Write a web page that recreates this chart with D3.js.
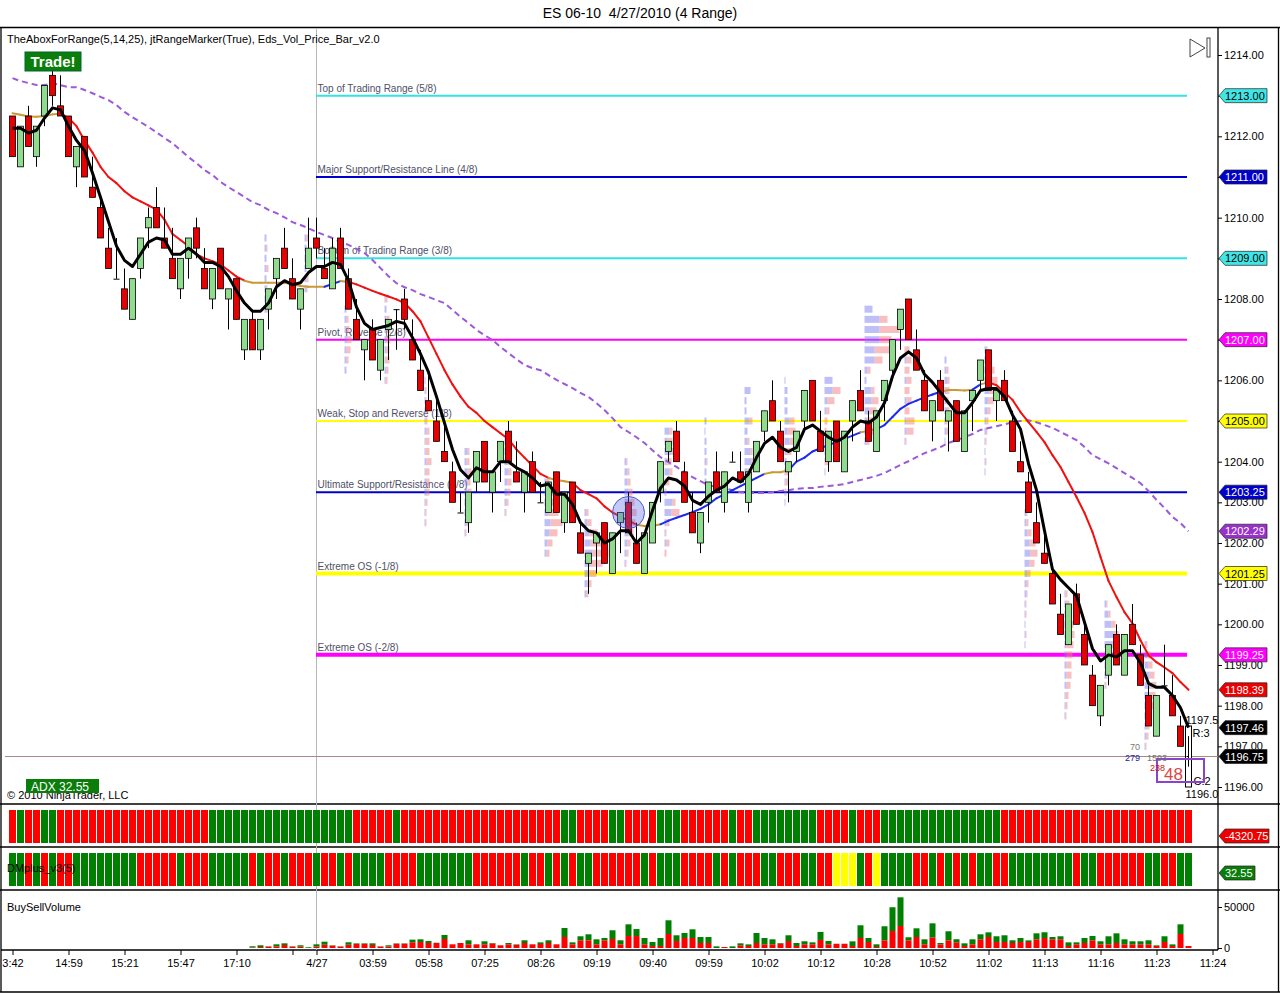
<!DOCTYPE html>
<html>
<head>
<meta charset="utf-8">
<script src="https://cdn.jsdelivr.net/npm/d3@7"></script>
<style>
  body { margin: 0; background: #fff; }
  svg text { font-family: "Liberation Sans", Arial, sans-serif; }
</style>
</head>
<body>
<div id="chart"></div>
<script>
// ---- data ----
const opens = [1212.5,1211.25,1212.5,1211.5,1212.5,1213.5,1212.75,1212.5,1211.25,1212,
 1210.75,1210.25,1209.25,1208.5,1208.25,1207.5,1208.75,1209.75,1210.25,1209.5,
 1209,1208.25,1209,1209.75,1208.75,1208,1209.25,1208,1208.5,1206.75,
 1207.5,1206.75,1207.75,1208.5,1209.25,1208.5,1207.75,1208.75,1209.5,1208.75,
 1208.25,1209.5,1208.5,1207.5,1206.75,1207.25,1206.25,1207.25,1207.75,1208,
 1207,1206.25,1205.5,1205,1204.25,1203.75,1202.75,1202.5,1203.5,1204.5,
 1203.25,1204,1204.75,1203.75,1203.25,1204,1203,1202.75,1203.75,1202.5,
 1203.5,1202.25,1201.5,1202,1202.5,1201.25,1202.5,1203,1202,1201.25,
 1202,1203.25,1204.25,1204.75,1203.75,1202.75,1202,1203,1203.75,1203,
 1204,1203.75,1203,1203.75,1204.75,1205.5,1204.75,1203.75,1204.25,1205,
 1206,1204.75,1204,1205,1203.75,1205,1205.75,1205,1204.25,1205.5,
 1206.25,1207.25,1208,1206.75,1206,1205,1206,1205,1205.5,1204.25,
 1205.5,1206,1206.75,1205.5,1206,1205,1204,1203.5,1202.5,1201.75,
 1201.25,1200.25,1199.5,1200.75,1199.75,1198.75,1197.75,1198.75,1199.75,1198.75,
 1200,1199.25,1198.25,1197.25,1198.5,1198.25,1197.5,1196.75];
const highs = [1212.5,1212.25,1212.75,1212.25,1213.25,1213.75,1213.5,1212.5,1211.75,1212,
 1211.5,1210.5,1209.75,1209.5,1208.75,1208.5,1209.5,1210.25,1210.75,1210.25,
 1209.75,1209,1209.5,1210,1209.25,1208.75,1209.25,1208.25,1208.5,1207.5,
 1207.75,1207.5,1208.25,1209,1209.75,1209,1208.25,1210,1210,1209.25,
 1209.5,1209.75,1208.75,1208,1207,1207.5,1207,1207.5,1207.75,1208.25,
 1207.5,1206.75,1206.25,1205.5,1205,1204,1203.25,1203.25,1204.25,1204.5,
 1203.75,1204.5,1205,1204.5,1203.75,1204.25,1203.5,1203.5,1203.75,1203.25,
 1203.5,1202.5,1201.75,1202.25,1202.5,1202.25,1202.75,1203.25,1202.5,1202.25,
 1203,1204,1204.5,1205,1204,1203.25,1202.75,1203.5,1204.25,1203.75,
 1204.25,1204.25,1203.75,1204.5,1205.25,1206,1205,1204,1204.75,1205.75,
 1206,1205.25,1204.75,1205,1204.75,1205.5,1206.25,1205.25,1205.25,1206,
 1207,1207.75,1208,1207.25,1206.25,1205.5,1206.25,1205.25,1205.5,1205.25,
 1205.75,1206.5,1206.75,1205.75,1206.25,1205.25,1204.5,1203.75,1203,1202.25,
 1201.5,1200.75,1200.5,1201,1200,1199,1198.5,1199.5,1200,1199.75,
 1200.5,1199.5,1198.5,1198.25,1199.5,1198.75,1197.75,1197.25];
const lows = [1211.5,1211.25,1211.75,1211.25,1212.25,1212.75,1212.5,1211.5,1210.75,1211,
 1210.5,1209.5,1208.75,1208.5,1207.75,1207.5,1208.5,1209.25,1209.75,1209.25,
 1208.5,1208,1208.5,1209,1208.25,1207.75,1208.25,1207.25,1207.5,1206.5,
 1206.75,1206.5,1207.25,1208,1208.75,1208,1207.25,1208.75,1209,1208.5,
 1208.25,1208.75,1207.75,1207,1206,1206.5,1206,1206.5,1206.75,1207.25,
 1206.5,1205.75,1205.25,1204.5,1204,1203,1202.75,1202.25,1203.25,1203.5,
 1202.75,1203.5,1204,1203.5,1202.75,1203.25,1203,1202.75,1202.75,1202.25,
 1202.5,1201.75,1200.75,1201.25,1201.5,1201.25,1201.75,1202.25,1201.5,1201.25,
 1202,1203,1204,1204,1203,1202.25,1201.75,1202.5,1203.25,1202.75,
 1204,1203.5,1202.75,1203.75,1204.5,1205,1204,1203,1204,1204.75,
 1205,1204.25,1203.75,1204,1203.75,1204.5,1205.25,1204.5,1204.25,1205,
 1206,1206.75,1207,1206.25,1205.25,1204.5,1205.25,1204.25,1204.5,1204.25,
 1204.75,1205.75,1205.75,1205,1205.5,1204.25,1203.75,1202.75,1202,1201.5,
 1200.5,1199.75,1199.5,1200,1199,1198,1197.5,1198.5,1199,1198.75,
 1199.5,1198.5,1197.5,1197.25,1198.5,1197.75,1197,1196.5];
const closes = [1211.5,1212.25,1211.75,1212.25,1213.25,1213,1212.5,1211.5,1211.75,1211,
 1210.5,1209.5,1208.75,1208.5,1207.75,1208.5,1209.5,1210,1209.75,1209.25,
 1208.5,1209,1209.5,1209.25,1208.25,1208.75,1208.25,1208.25,1207.5,1207.5,
 1206.75,1207.5,1208.25,1209,1208.75,1208,1208.25,1209.25,1209.25,1208.5,
 1209.25,1208.75,1207.75,1207,1207,1206.5,1207,1207.5,1207.75,1207.5,
 1206.5,1205.75,1205.25,1204.5,1204,1203,1202.75,1203.25,1204.25,1203.5,
 1203.75,1204.5,1204,1203.5,1203.75,1203.25,1203,1203.5,1202.75,1203.25,
 1202.5,1201.75,1201.75,1202.25,1201.5,1202.25,1202.75,1202.25,1201.5,1202.25,
 1203,1204,1204.5,1204,1203,1202.25,1202.75,1203.5,1203.25,1203.75,
 1204,1203.5,1203.75,1204.5,1205.25,1205,1204,1204,1204.75,1205.75,
 1205,1204.25,1204.75,1204,1204.75,1205.5,1205.25,1204.5,1205.25,1206,
 1207,1207.75,1207,1206.25,1205.25,1205.5,1205.25,1205.25,1204.5,1205.25,
 1205.75,1206.5,1205.75,1205.75,1205.5,1204.25,1203.75,1202.75,1202,1201.5,
 1200.5,1199.75,1200.5,1200,1199,1198,1198.5,1199.5,1199,1199.75,
 1199.5,1198.5,1197.5,1198.25,1198.5,1197.75,1197,1196.75];

// thick black average (5)
const fastAvg = [1212.2,1212.2,1212.08,1212.15,1212.45,1212.7,1212.65,1212.25,1211.9,1211.65,
 1211.1,1210.5,1209.9,1209.3,1208.95,1208.8,1209.1,1209.4,1209.5,1209.45,
 1209.1,1209.1,1209.25,1209.1,1208.9,1208.9,1208.8,1208.55,1208.2,1207.9,
 1207.7,1207.7,1207.9,1208.3,1208.45,1208.35,1208.4,1208.65,1208.8,1208.8,
 1208.9,1208.85,1208.45,1207.8,1207.4,1207.25,1207.3,1207.35,1207.45,1207.4,
 1207.05,1206.65,1206.2,1205.6,1204.95,1204.3,1203.8,1203.6,1203.85,1203.75,
 1203.75,1204,1204,1203.85,1203.75,1203.6,1203.4,1203.45,1203.2,1203.2,
 1202.95,1202.5,1202.3,1202.25,1202,1202.1,1202.3,1202.3,1202,1202.2,
 1202.8,1203.35,1203.6,1203.55,1203.4,1203.05,1202.95,1203.15,1203.3,1203.4,
 1203.6,1203.5,1203.7,1204.1,1204.45,1204.6,1204.35,1204.25,1204.35,1204.8,
 1204.9,1204.75,1204.6,1204.5,1204.6,1204.85,1205,1204.95,1205.1,1205.45,
 1206.1,1206.55,1206.7,1206.55,1206.15,1205.95,1205.7,1205.45,1205.2,1205.2,
 1205.45,1205.75,1205.8,1205.8,1205.6,1205.15,1204.8,1203.95,1203.3,1202.3,
 1201.35,1201.1,1200.9,1200.7,1200.05,1199.4,1199.1,1199.25,1199.2,1199.35,
 1199.35,1199.05,1198.55,1198.45,1198.45,1198.25,1197.95,1197.46];

// slope-coloured average (14)
const midAvg = [1212.57,1212.53,1212.49,1212.48,1212.5,1212.54,1212.56,1212.45,1212.25,1211.9,
 1211.6,1211.25,1211,1210.85,1210.65,1210.5,1210.4,1210.3,1210.2,1209.95,
 1209.6,1209.45,1209.3,1209.1,1209,1208.93,1208.85,1208.7,1208.55,1208.45,
 1208.4,1208.4,1208.4,1208.4,1208.4,1208.36,1208.32,1208.3,1208.3,1208.3,
 1208.37,1208.44,1208.42,1208.36,1208.28,1208.2,1208.13,1208.06,1207.99,1207.9,
 1207.7,1207.45,1207.05,1206.65,1206.25,1205.9,1205.6,1205.35,1205.2,1205,
 1204.85,1204.7,1204.55,1204.3,1204.1,1203.9,1203.7,1203.6,1203.55,1203.52,
 1203.48,1203.3,1203.2,1203.1,1202.9,1202.75,1202.65,1202.55,1202.45,1202.42,
 1202.42,1202.46,1202.55,1202.62,1202.69,1202.76,1202.84,1202.95,1203.1,1203.2,
 1203.3,1203.4,1203.5,1203.6,1203.7,1203.74,1203.74,1203.79,1204,1204.1,
 1204.25,1204.33,1204.41,1204.48,1204.56,1204.64,1204.72,1204.76,1204.8,1204.9,
 1205.1,1205.3,1205.42,1205.5,1205.58,1205.65,1205.72,1205.76,1205.76,1205.75,
 1205.77,1205.9,1205.95,1205.88,1205.71,1205.52,1205.22,1204.97,1204.73,1204.48,
 1204.16,1203.87,1203.5,1203.13,1202.74,1202.27,1201.66,1201.07,1200.67,1200.3,
 1200.02,1199.61,1199.24,1199.07,1198.94,1198.8,1198.58,1198.39];

// dashed purple average (25)
const slowAvg = [1213.43,1213.36,1213.31,1213.26,1213.26,1213.31,1213.26,1213.21,1213.21,1213.14,
 1213.06,1212.97,1212.89,1212.77,1212.6,1212.47,1212.35,1212.23,1212.1,1211.96,
 1211.83,1211.66,1211.49,1211.34,1211.17,1211.05,1210.88,1210.75,1210.63,1210.51,
 1210.38,1210.31,1210.19,1210.11,1210.01,1209.89,1209.82,1209.74,1209.65,1209.57,
 1209.5,1209.4,1209.33,1209.23,1209.13,1208.96,1208.76,1208.56,1208.39,1208.29,
 1208.22,1208.12,1208.05,1207.97,1207.9,1207.73,1207.56,1207.41,1207.24,1207.11,
 1206.99,1206.82,1206.67,1206.52,1206.38,1206.3,1206.25,1206.13,1206.01,1205.91,
 1205.81,1205.69,1205.59,1205.44,1205.27,1205.07,1204.85,1204.73,1204.6,1204.46,
 1204.28,1204.11,1203.99,1203.87,1203.74,1203.62,1203.52,1203.42,1203.38,1203.35,
 1203.3,1203.25,1203.23,1203.23,1203.23,1203.25,1203.28,1203.3,1203.33,1203.35,
 1203.35,1203.38,1203.4,1203.42,1203.45,1203.5,1203.55,1203.6,1203.65,1203.72,
 1203.82,1203.92,1204.01,1204.11,1204.21,1204.28,1204.36,1204.46,1204.53,1204.6,
 1204.68,1204.78,1204.83,1204.87,1204.92,1204.97,1205,1205.02,1204.97,1204.9,
 1204.83,1204.73,1204.63,1204.53,1204.36,1204.16,1204.06,1203.96,1203.84,1203.72,
 1203.6,1203.47,1203.28,1203.06,1202.86,1202.64,1202.49,1202.29];

// trend strip and DMplus strip (G = up, R = down, Y = neutral)
const trendStrip = ["RGRRGG","RRRRRRRRRRRRRRRRRRR","GGGGGGGGGGGGGGGGGG","RRRRR","G",
 "RRRRRRRRRRRRRRRRRRRR","GG","RRRR","GG","RRRR","GGG","RRRRRR","G","RR","GGGGGGGG",
 "RRRR","G","RRR","GGGGGGGGGGGGGGG","RRRRRRRRRRRRRRRRRRRRRRRR"].join("");
const dmStrip = ["GGRGRGRR","GGGGGGGG","RRRRR","G","RRR","GGGGG","RGRRGRRRGRRGR","GGGG","RRRR",
 "GGGGGGG","RRRRRR","GRRGRGRGG","RRRRRR","GRGGGRRRRGRGRRRGGRRRGGRR",
 "YYYGRYGGGGRRGRGRGRGGRRGGGGGGGGRGGRRRRRRGGRRGG"].join("");

// buy / sell volume, starting at bar 30
const volStart = 30;
const sellVol = [600,1200,1800,2000,3600,1800,1600,0,1800,4000,
 3000,1800,4000,5000,5000,3700,1800,1800,5200,5200,
 7000,7300,6100,6100,11000,4500,6100,4500,4500,4500,
 5500,3300,4500,4000,6100,4500,4900,6100,4500,13400,
 4500,9400,9400,4500,9400,11000,4500,14600,14600,4500,
 2400,2400,17100,8500,12200,12200,6100,6100,0,1200,
 0,3300,2400,6100,4500,4500,5300,8500,2400,4500,
 4500,9800,4500,5200,5200,2400,12200,7300,1200,9400,
 20700,26800,9400,13400,4500,13000,4500,9400,7000,2400,
 4500,10600,13400,7300,7300,6100,7300,7300,10600,12200,
 10600,10600,2400,4500,6100,9400,4500,4500,6100,4500,
 4500,4500,4500,2400,7300,2400,17100,2400];
const buyVol = [1500,2100,300,2500,2100,300,1700,900,2700,3700,
 300,300,3000,700,700,2000,300,1500,500,500,
 3200,3300,2400,300,4900,0,0,4900,0,3700,
 600,0,1600,500,3300,0,2000,3300,0,11000,
 2400,4900,7300,6100,2800,10600,4900,14300,8500,7700,
 4900,9800,16700,7000,6100,10600,7300,7300,2000,0,
 2000,2400,2000,12200,7700,6100,800,7000,3700,3700,
 2400,9800,4100,0,0,5700,15500,4900,3300,17100,
 29000,35000,3700,10600,6100,17100,1600,11000,3700,3300,
 6100,6100,5700,7000,8200,3300,4900,2000,7300,7000,
 2800,3700,4500,2400,6100,5300,3700,9800,11800,6100,
 3700,3700,4900,800,7000,2000,11800,0];

// range-marker levels
const levelPrices = [1213, 1211, 1209, 1207, 1205, 1203.25, 1201.25, 1199.25];
const levelNames = ["Top of Trading Range (5/8)", "Major Support/Resistance Line (4/8)",
 "Bottom of Trading Range (3/8)", "Pivot, Reverse (2/8)", "Weak, Stop and Reverse (1/8)",
 "Ultimate Support/Resistance (0/8)", "Extreme OS (-1/8)", "Extreme OS (-2/8)"];

// volume-at-price: first bar of each 5-bar group, its top price, and buy/sell per 0.25 level (top down)
const profileBars = [32,37,42,47,52,57,62,67,72,77,82,87,92,97,102,107,112,117,122,127,132,137,142];
const profileTops = [1209.5,1209.5,1207.75,1208,1206,1204.25,1204.5,1203.5,1202.75,1204,1204.75,1205,1205.75,1206,1206,1207.75,1206.75,1206.5,1206.75,1202.75,1200.75,1200.5,1199.5];
const profileBuy = [
 [2,2,2,2,2,2,2,2], [2,2,1,2,2,2], [2,2,2,3,2,2,2], [1,2,2,2,2,2,1,2,1],
 [1,1,1,1,1,2,1,1,2,1,2,2,1,1,1], [3,2,3,3,3,4,3,2,1], [2,3,3,4,3,3,2,1],
 [2,4,5,4,6,5,3,2], [2,3,5,6,8,6,4,3,2], [2,3,3,4,5,6,5,4,3,2,1],
 [5,3,7,2,5,2,1,8,7,2,1,2,0], [2,1,2,2,2,2,2], [6,2,2,5,3,3,6,7,3],
 [1,3,3,3,5,3,5,2,2,1,1,1,1], [8,8,3,2,0,0,5,2,0,1], [8,15,15,15,10,10,3,2,7,7,5,3,2,2],
 [0,2,0,2,0,2,0,2,2,1], [2,2,3,2,2,3,2,2,1], [2,3,4,5,5,4,3,2,2,1,1,1,1],
 [2,2,3,5,6,5,3,2,2,1,1,1,1,1], [1,2,2,3,2,2,2,2,2,2,1,1,1], [2,4,7,9,8,5,3,2,1],
 [2,3,4,5,6,5,4,3,2,2,1]];
const profileSell = [
 [0,1,0,2,0,1,0,2], [2,0,2,0,2,1], [0,2,3,4,4,2,0], [2,0,3,4,4,3,4,2,2],
 [0,1,1,2,2,3,4,4,5,4,3,3,2,1,1], [2,3,4,3,4,2,3,2,1], [3,2,4,3,4,3,2,1],
 [3,5,8,10,12,8,5,3], [2,4,8,12,16,12,8,4,2], [1,2,3,4,5,6,6,5,3,2,1],
 [3,5,8,5,3,3,1,3,8,3,1,3,2], [0,0,0,0,1,0,0], [0,0,0,3,0,2,2,2,2],
 [0,0,0,0,5,8,5,5,0,3,3,1,0], [0,8,7,3,3,2,0,0,5,0], [0,8,20,12,15,8,3,0,3,7,7,5,7,3],
 [5,5,5,5,5,5,5,8,7,1], [0,2,2,3,2,2,1,2,0], [1,3,6,8,7,5,3,2,1,1,0,1,0],
 [1,2,4,6,7,5,3,2,1,1,1,0,1,0], [2,3,5,6,8,7,6,5,5,4,3,2,1], [1,2,4,5,4,3,2,1,1],
 [1,3,4,5,6,6,5,4,3,2,1]];

// x-axis ticks
const tickBars = [0,7,14,21,28,35,38,45,52,59,66,73,80,87,94,101,108,115,122,129,136,143,150];
const tickLabels = ["3:42","14:59","15:21","15:47","17:10","","4/27","03:59","05:58","07:25","08:26",
 "09:19","09:40","09:59","10:02","10:12","10:28","10:52","11:02","11:13","11:16","11:23","11:24"];

const sessionBar = 38;
const rangeHigh = 1197.5, rangeLow = 1196.0;
const adxValue = 32.55, trendValue = -4320.75;

// ---- drawing ----
const W = 1280, H = 994, axisX = 1218;
const n = closes.length;

const svg = d3.select("#chart").append("svg")
  .attr("width", W).attr("height", H)
  .style("display", "block");

const x = d3.scaleLinear().domain([0, 150]).range([12.5, 1212.5]);
const y = d3.scaleLinear().domain([1196, 1214]).range([787, 55]);
const yVol = d3.scaleLinear().domain([0, 50000]).range([948, 907]);

// title
svg.append("text")
  .attr("x", W / 2).attr("y", 18)
  .attr("text-anchor", "middle")
  .attr("font-size", "14px")
  .style("white-space", "pre")
  .text("ES 06-10  4/27/2010 (4 Range)");

// frame and panel separators
const frame = svg.append("g").attr("stroke", "#000").attr("stroke-width", 1.3);
frame.append("line").attr("x1", 0).attr("x2", W).attr("y1", 27.5).attr("y2", 27.5);
frame.append("line").attr("x1", 1).attr("x2", 1).attr("y1", 27).attr("y2", 992);
frame.append("line").attr("x1", 0).attr("x2", W).attr("y1", 992).attr("y2", 992);
frame.append("line").attr("x1", W - 1.5).attr("x2", W - 1.5).attr("y1", 27).attr("y2", 992);
[804, 847, 890].forEach(v => {
  frame.append("line").attr("x1", 0).attr("x2", W).attr("y1", v).attr("y2", v);
});
frame.append("line").attr("x1", axisX).attr("x2", axisX).attr("y1", 27).attr("y2", 950);
frame.append("line").attr("x1", 1).attr("x2", axisX).attr("y1", 950).attr("y2", 950);

// session break
svg.append("line")
  .attr("x1", 316.5).attr("x2", 316.5).attr("y1", 28).attr("y2", 950)
  .attr("stroke", "#b8b8b8").attr("stroke-width", 1);

// last price line
svg.append("line")
  .attr("x1", 5).attr("x2", axisX).attr("y1", y(closes[n - 1])).attr("y2", y(closes[n - 1]))
  .attr("stroke", "#a88888").attr("stroke-width", 1);

// range marker levels
const levelColors = ["#33e3e3", "#0000cc", "#33e3e3", "#ff00ff", "#ffff00", "#0000cc", "#ffff00", "#ff00ff"];
const levelWidths = [2, 2, 2, 2, 2, 2, 4, 4];
const lv = svg.append("g");
lv.selectAll("line").data(levelPrices).enter().append("line")
  .attr("x1", x(sessionBar) - 0.5).attr("x2", 1187)
  .attr("y1", d => y(d)).attr("y2", d => y(d))
  .attr("stroke", (d, i) => levelColors[i])
  .attr("stroke-width", (d, i) => levelWidths[i]);

// volume-at-price blocks (blue buy, pink sell)
const prof = svg.append("g");
profileBars.forEach((b, g) => {
  const x0 = x(b) - 4;
  profileBuy[g].forEach((bv, k) => {
    const sv = profileSell[g][k];
    const yc = y(profileTops[g] - 0.25 * k);
    const bw = (bv === 0 && sv === 0) ? 2 : bv;
    if (bw > 0) {
      prof.append("rect").attr("x", x0).attr("y", yc - 3.5).attr("width", bw).attr("height", 7)
        .attr("fill", "#7f7ff0").attr("fill-opacity", 0.5);
    }
    if (sv > 0) {
      prof.append("rect").attr("x", x0 + bw).attr("y", yc - 3.5).attr("width", sv).attr("height", 7)
        .attr("fill", "#f08080").attr("fill-opacity", 0.5);
    }
  });
});

lv.selectAll("text").data(levelPrices).enter().append("text")
  .attr("x", x(sessionBar) + 1).attr("y", d => y(d) - 4)
  .attr("font-size", "10px").attr("fill", "#505068")
  .text((d, i) => levelNames[i]);

// slow dashed average
const lineGen = arr => d3.line().x((d, i) => x(i)).y(d => y(d))(arr);
svg.append("path")
  .attr("d", lineGen(slowAvg))
  .attr("fill", "none").attr("stroke", "#9b5ad8").attr("stroke-width", 2)
  .attr("stroke-dasharray", "6,4");

// mid average, coloured by slope
svg.append("g").selectAll("line").data(d3.range(1, n)).enter().append("line")
  .attr("x1", i => x(i - 1)).attr("x2", i => x(i))
  .attr("y1", i => y(midAvg[i - 1])).attr("y2", i => y(midAvg[i]))
  .attr("stroke-width", 2).attr("stroke-linecap", "round")
  .attr("stroke", i => {
    const d = midAvg[i] - midAvg[i - 1];
    return d > 0.06 ? "#1a2cf0" : d < -0.06 ? "#f01010" : "#c89a38";
  });

// candles
const cg = svg.append("g");
const bars = d3.range(n - 1);
cg.selectAll("line.wick").data(bars).enter().append("line")
  .attr("class", "wick")
  .attr("x1", i => x(i)).attr("x2", i => x(i))
  .attr("y1", i => y(highs[i])).attr("y2", i => y(lows[i]))
  .attr("stroke", "#000").attr("stroke-width", 1);
cg.selectAll("rect.body").data(bars).enter().append("rect")
  .attr("class", "body")
  .attr("x", i => x(i) - 3).attr("width", 6)
  .attr("y", i => y(Math.max(opens[i], closes[i])))
  .attr("height", i => Math.max(1, Math.abs(y(opens[i]) - y(closes[i]))))
  .attr("fill", i => closes[i] > opens[i] ? "#8fdc8f" : closes[i] < opens[i] ? "#e80000" : "#000")
  .attr("stroke", "#000").attr("stroke-width", i => closes[i] === opens[i] ? 0 : 0.8);

// current bar with its range projection
const last = n - 1;
svg.append("rect")
  .attr("x", x(last) - 3).attr("width", 6)
  .attr("y", y(rangeHigh)).attr("height", y(rangeLow) - y(rangeHigh))
  .attr("fill", "#fff").attr("stroke", "#000").attr("stroke-width", 1);
svg.append("line")
  .attr("x1", x(last)).attr("x2", x(last))
  .attr("y1", y(highs[last])).attr("y2", y(lows[last]))
  .attr("stroke", "#000");
svg.append("line")
  .attr("x1", x(last) - 2).attr("x2", x(last))
  .attr("y1", y(closes[last])).attr("y2", y(closes[last]))
  .attr("stroke", "#000");

// fast black average
svg.append("path")
  .attr("d", lineGen(fastAvg))
  .attr("fill", "none").attr("stroke", "#000").attr("stroke-width", 3)
  .attr("stroke-linejoin", "round");

// annotations near the last bar
const ann = svg.append("g").attr("font-size", "11px");
ann.append("text").attr("x", x(last) - 3).attr("y", y(rangeHigh) - 2).text(rangeHigh.toFixed(1));
ann.append("text").attr("x", x(last) + 4).attr("y", y(rangeHigh) + 11).text("R:3");
ann.append("text").attr("x", x(last) + 5).attr("y", y(rangeLow) - 2).text("C:2");
ann.append("text").attr("x", x(last) - 3).attr("y", y(rangeLow) + 11).text(rangeLow.toFixed(1));
ann.append("rect").attr("x", 1157).attr("y", 759).attr("width", 47).attr("height", 23)
  .attr("fill", "none").attr("stroke", "#8844cc").attr("stroke-width", 2);
ann.append("text").attr("x", 1130).attr("y", 750).attr("font-size", "9px").attr("fill", "#777").text("70");
ann.append("text").attr("x", 1125).attr("y", 761).attr("font-size", "9px").attr("fill", "#1a1a99").text("279");
ann.append("text").attr("x", 1147).attr("y", 761).attr("font-size", "9px").attr("fill", "#777").text("1593");
ann.append("text").attr("x", 1150).attr("y", 771).attr("font-size", "9px").attr("fill", "#cc1111").text("238");
ann.append("text").attr("x", 1164).attr("y", 780).attr("font-size", "17px").attr("fill", "#e04545").text("48");

// highlight circle
svg.append("circle")
  .attr("cx", x(77)).attr("cy", y(1202.75)).attr("r", 16)
  .attr("fill", "rgba(90,100,230,0.35)").attr("stroke", "#4a55cc").attr("stroke-width", 1);

// header texts and boxes
svg.append("text").attr("x", 7).attr("y", 43).attr("font-size", "11px")
  .text("TheAboxForRange(5,14,25), jtRangeMarker(True), Eds_Vol_Price_Bar_v2.0");
svg.append("rect").attr("x", 25).attr("y", 52).attr("width", 56).attr("height", 19)
  .attr("fill", "#0a7d0a").attr("stroke", "#063");
svg.append("text").attr("x", 53).attr("y", 67).attr("text-anchor", "middle")
  .attr("font-size", "15px").attr("font-weight", "bold").attr("fill", "#fff").text("Trade!");
svg.append("path").attr("d", "M1190,39 L1190,57 L1205,48 Z")
  .attr("fill", "none").attr("stroke", "#444").attr("stroke-width", 1);
svg.append("rect").attr("x", 1207).attr("y", 38).attr("width", 3).attr("height", 19)
  .attr("fill", "none").attr("stroke", "#444").attr("stroke-width", 1);

svg.append("text").attr("x", 7).attr("y", 799).attr("font-size", "11px")
  .text("\u00a9 2010 NinjaTrader, LLC");
svg.append("rect").attr("x", 26).attr("y", 779).attr("width", 73).attr("height", 14)
  .attr("fill", "#0a7d0a");
svg.append("text").attr("x", 31).attr("y", 791).attr("font-size", "12px").attr("fill", "#fff")
  .text("ADX " + adxValue.toFixed(2));

// strips
const stripColor = { G: "#008000", R: "#ff0000", Y: "#ffff00" };
svg.append("g").selectAll("rect").data(trendStrip.split("")).enter().append("rect")
  .attr("x", (d, i) => x(i) - 3.5).attr("width", 7)
  .attr("y", 810).attr("height", 33)
  .attr("fill", d => stripColor[d]);
svg.append("g").selectAll("rect").data(dmStrip.split("")).enter().append("rect")
  .attr("x", (d, i) => x(i) - 3.5).attr("width", 7)
  .attr("y", 853).attr("height", 33)
  .attr("fill", d => stripColor[d]);
svg.append("text").attr("x", 7).attr("y", 872).attr("font-size", "11px").text("DMplus_v3(5)");

// buy/sell volume
svg.append("text").attr("x", 7).attr("y", 911).attr("font-size", "11px").text("BuySellVolume");
const vg = svg.append("g");
vg.selectAll("rect.sell").data(sellVol).enter().append("rect")
  .attr("class", "sell")
  .attr("x", (d, i) => x(i + volStart) - 3).attr("width", 6)
  .attr("y", d => yVol(d)).attr("height", d => yVol(0) - yVol(d))
  .attr("fill", "#ff0000");
vg.selectAll("rect.buy").data(buyVol).enter().append("rect")
  .attr("class", "buy")
  .attr("x", (d, i) => x(i + volStart) - 3).attr("width", 6)
  .attr("y", (d, i) => yVol(d + sellVol[i])).attr("height", (d, i) => yVol(sellVol[i]) - yVol(d + sellVol[i]))
  .attr("fill", "#008000");

// right price axis
const pa = svg.append("g")
  .attr("transform", `translate(${axisX},0)`)
  .call(d3.axisRight(y).tickValues(d3.range(1196, 1215)).tickFormat(d3.format(".2f")).tickSize(4).tickPadding(2));
pa.select(".domain").remove();
pa.selectAll("text").attr("font-size", "11px").attr("font-family", "Liberation Sans, Arial, sans-serif");

const va = svg.append("g")
  .attr("transform", `translate(${axisX},0)`)
  .call(d3.axisRight(yVol).tickValues([0, 50000]).tickSize(4).tickPadding(2).tickFormat(d3.format("d")));
va.select(".domain").remove();
va.selectAll("text").attr("font-size", "11px").attr("font-family", "Liberation Sans, Arial, sans-serif");

// time axis
const ta = svg.append("g")
  .attr("transform", "translate(0,950)")
  .call(d3.axisBottom(x).tickValues(tickBars).tickFormat((d, i) => tickLabels[i]).tickSize(5).tickPadding(4));
ta.select(".domain").remove();
ta.selectAll("text").attr("font-size", "11px").attr("font-family", "Liberation Sans, Arial, sans-serif");

// value flags on the right axis
function flag(yc, label, fill, color, w) {
  const x0 = axisX + 1;
  const g = svg.append("g");
  g.append("path")
    .attr("d", `M${x0},${yc} L${x0 + 6},${yc - 7} L${x0 + w},${yc - 7} L${x0 + w},${yc + 7} L${x0 + 6},${yc + 7} Z`)
    .attr("fill", fill).attr("stroke", "#222").attr("stroke-width", 0.7);
  g.append("text").attr("x", x0 + 6).attr("y", yc + 4)
    .attr("font-size", "11px").attr("fill", color).text(label);
}
const flagText = ["#000", "#fff", "#000", "#fff", "#000", "#fff", "#000", "#fff"];
const flagFill = ["#40e6e6", "#0000cc", "#40e6e6", "#ff00ff", "#ffff00", "#0000cc", "#ffff00", "#ff00ff"];
levelPrices.forEach((p, i) => flag(y(p), p.toFixed(2), flagFill[i], flagText[i], 48));
flag(y(slowAvg[last]), slowAvg[last].toFixed(2), "#9932cc", "#fff", 48);
flag(y(midAvg[last]), midAvg[last].toFixed(2), "#ee0000", "#fff", 48);
flag(y(fastAvg[last]), fastAvg[last].toFixed(2), "#000", "#fff", 48);
flag(y(closes[last]), closes[last].toFixed(2), "#000", "#fff", 48);
flag(836, trendValue.toFixed(2), "#ee0000", "#fff", 50);
flag(873, adxValue.toFixed(2), "#0a7d0a", "#fff", 36);
</script>
</body>
</html>
